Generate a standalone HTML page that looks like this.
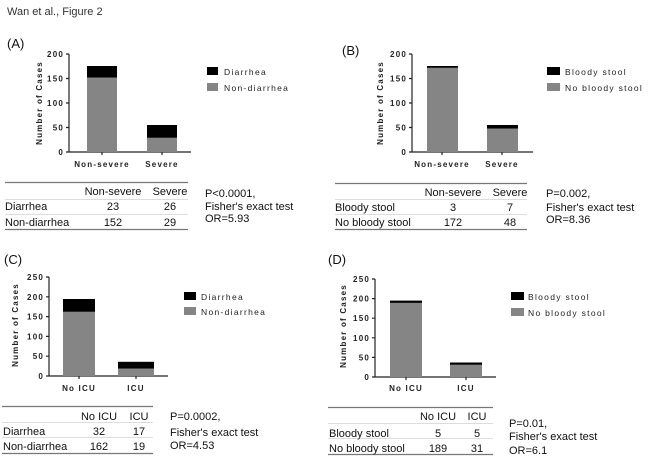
<!DOCTYPE html>
<html><head><meta charset="utf-8"><style>
html,body{margin:0;padding:0;background:#fff}
svg{display:block}
text{font-family:"Liberation Sans",Arial,sans-serif}
.t{font-size:8px;font-weight:bold;letter-spacing:1.2px;fill:#222}
.tb{font-size:11px;fill:#111}
.lg{font-size:8.5px;letter-spacing:1.3px;fill:#222}
.pl{font-size:13px;fill:#111}
</style></head><body>
<svg width="650" height="466" viewBox="0 0 650 466" xmlns="http://www.w3.org/2000/svg">
<rect width="650" height="466" fill="#fff"/>
<text x="7" y="15" style="font-size:11px;fill:#333">Wan et al., Figure 2</text>

<!-- Panel A -->
<text class="pl" x="7" y="48">(A)</text>
<g stroke="#222" stroke-width="1.2" fill="none">
<path d="M69 54V152H191M66 54H69M66 78.5H69M66 103H69M66 127.5H69M66 152H69M102 152V155M162 152V155"/>
</g>
<g class="t" text-anchor="end"><text x="64" y="57">200</text><text x="64" y="81.5">150</text><text x="64" y="106">100</text><text x="64" y="130.5">50</text><text x="64" y="155">0</text></g>
<text class="t" transform="translate(42,103) rotate(-90)" text-anchor="middle">Number of Cases</text>
<rect x="87" y="77.5" width="30" height="74.5" fill="#858585"/><rect x="87" y="66" width="30" height="11.5" fill="#000"/>
<rect x="147" y="137.8" width="30" height="14.2" fill="#858585"/><rect x="147" y="125" width="30" height="12.8" fill="#000"/>
<g class="t" text-anchor="middle"><text x="102" y="167">Non-severe</text><text x="162" y="167">Severe</text></g>
<rect x="207" y="67" width="11" height="8" fill="#000"/><rect x="207" y="83" width="11" height="8" fill="#858585"/>
<text class="lg" x="224" y="75">Diarrhea</text><text class="lg" x="224" y="91">Non-diarrhea</text>
<g stroke="#777"><path d="M5 182.5H188" stroke-width="1.3"/><path d="M5 199.5H188M5 214.5H188" stroke="#bbb" stroke-width="0.6"/><path d="M5 229.5H188" stroke-width="1.3"/></g>
<g class="tb"><text x="113" y="195" text-anchor="middle">Non-severe</text><text x="170" y="195" text-anchor="middle">Severe</text>
<text x="5" y="210">Diarrhea</text><text x="113" y="210" text-anchor="middle">23</text><text x="170" y="210" text-anchor="middle">26</text>
<text x="5" y="226">Non-diarrhea</text><text x="113" y="226" text-anchor="middle">152</text><text x="170" y="226" text-anchor="middle">29</text>
<text x="205" y="197">P&lt;0.0001,</text><text x="205" y="210">Fisher's exact test</text><text x="205" y="222">OR=5.93</text></g>

<!-- Panel B -->
<text class="pl" x="342" y="55">(B)</text>
<g stroke="#222" stroke-width="1.2" fill="none">
<path d="M412 54V152H533M409 54H412M409 78.5H412M409 103H412M409 127.5H412M409 152H412M442 152V155M502 152V155"/>
</g>
<g class="t" text-anchor="end"><text x="407" y="57">200</text><text x="407" y="81.5">150</text><text x="407" y="106">100</text><text x="407" y="130.5">50</text><text x="407" y="155">0</text></g>
<text class="t" transform="translate(383,103) rotate(-90)" text-anchor="middle">Number of Cases</text>
<rect x="427" y="67.7" width="31" height="84.3" fill="#858585"/><rect x="427" y="66" width="31" height="1.8" fill="#000"/>
<rect x="487" y="128.5" width="31" height="23.5" fill="#858585"/><rect x="487" y="125" width="31" height="3.5" fill="#000"/>
<g class="t" text-anchor="middle"><text x="442" y="167">Non-severe</text><text x="502" y="167">Severe</text></g>
<rect x="547" y="67" width="13" height="8" fill="#000"/><rect x="547" y="83" width="13" height="8" fill="#858585"/>
<text class="lg" x="565" y="75">Bloody stool</text><text class="lg" x="565" y="91">No bloody stool</text>
<g stroke="#777"><path d="M335 183.5H527" stroke-width="1.3"/><path d="M335 199.5H527M335 214.5H527" stroke="#bbb" stroke-width="0.6"/><path d="M335 229.5H527" stroke-width="1.3"/></g>
<g class="tb"><text x="453" y="196" text-anchor="middle">Non-severe</text><text x="510" y="196" text-anchor="middle">Severe</text>
<text x="335" y="211">Bloody stool</text><text x="453" y="211" text-anchor="middle">3</text><text x="510" y="211" text-anchor="middle">7</text>
<text x="335" y="226">No bloody stool</text><text x="453" y="226" text-anchor="middle">172</text><text x="510" y="226" text-anchor="middle">48</text>
<text x="546" y="197">P=0.002,</text><text x="546" y="211">Fisher's exact test</text><text x="546" y="223">OR=8.36</text></g>

<!-- Panel C -->
<text class="pl" x="4" y="264">(C)</text>
<g stroke="#222" stroke-width="1.2" fill="none">
<path d="M49 277V376H168M46 277H49M46 296.8H49M46 316.6H49M46 336.4H49M46 356.2H49M46 376H49M79 376V379M136 376V379"/>
</g>
<g class="t" text-anchor="end"><text x="44" y="280">250</text><text x="44" y="299.8">200</text><text x="44" y="319.6">150</text><text x="44" y="339.4">100</text><text x="44" y="359.2">50</text><text x="44" y="379">0</text></g>
<text class="t" transform="translate(18,325) rotate(-90)" text-anchor="middle">Number of Cases</text>
<rect x="63" y="311.8" width="32" height="64.2" fill="#858585"/><rect x="63" y="299" width="32" height="12.8" fill="#000"/>
<rect x="118" y="368.5" width="36" height="7.5" fill="#858585"/><rect x="118" y="361.8" width="36" height="6.7" fill="#000"/>
<g class="t" text-anchor="middle"><text x="79" y="391">No ICU</text><text x="136" y="391">ICU</text></g>
<rect x="184" y="292" width="12" height="8" fill="#000"/><rect x="184" y="307" width="12" height="8" fill="#858585"/>
<text class="lg" x="201" y="300">Diarrhea</text><text class="lg" x="201" y="315">Non-diarrhea</text>
<g stroke="#777"><path d="M2 406.5H153" stroke-width="1.3"/><path d="M2 422.5H153M2 437.5H153" stroke="#bbb" stroke-width="0.6"/><path d="M2 453.5H153" stroke-width="1.3"/></g>
<g class="tb"><text x="99" y="420" text-anchor="middle">No ICU</text><text x="139" y="420" text-anchor="middle">ICU</text>
<text x="3" y="435">Diarrhea</text><text x="99" y="435" text-anchor="middle">32</text><text x="139" y="435" text-anchor="middle">17</text>
<text x="3" y="450">Non-diarrhea</text><text x="99" y="450" text-anchor="middle">162</text><text x="139" y="450" text-anchor="middle">19</text>
<text x="170" y="420">P=0.0002,</text><text x="170" y="436">Fisher's exact test</text><text x="170" y="449">OR=4.53</text></g>

<!-- Panel D -->
<text class="pl" x="328" y="264">(D)</text>
<g stroke="#222" stroke-width="1.2" fill="none">
<path d="M375 279V377H496M372 279H375M372 298.6H375M372 318.2H375M372 337.8H375M372 357.4H375M372 377H375M406 377V380M466 377V380"/>
</g>
<g class="t" text-anchor="end"><text x="370" y="282">250</text><text x="370" y="301.6">200</text><text x="370" y="321.2">150</text><text x="370" y="340.8">100</text><text x="370" y="360.4">50</text><text x="370" y="380">0</text></g>
<text class="t" transform="translate(346,326) rotate(-90)" text-anchor="middle">Number of Cases</text>
<rect x="390" y="302.9" width="32" height="74.1" fill="#858585"/><rect x="390" y="300.6" width="32" height="2.3" fill="#000"/>
<rect x="450" y="364.8" width="32" height="12.2" fill="#858585"/><rect x="450" y="362.5" width="32" height="2.3" fill="#000"/>
<g class="t" text-anchor="middle"><text x="406" y="391">No ICU</text><text x="466" y="391">ICU</text></g>
<rect x="511" y="292" width="13" height="8" fill="#000"/><rect x="511" y="308" width="13" height="8" fill="#858585"/>
<text class="lg" x="528" y="300">Bloody stool</text><text class="lg" x="528" y="316">No bloody stool</text>
<g stroke="#777"><path d="M328 407.5H493" stroke-width="1.3"/><path d="M328 423.5H493M328 438.5H493" stroke="#bbb" stroke-width="0.6"/><path d="M328 454.5H493" stroke-width="1.3"/></g>
<g class="tb"><text x="438" y="420" text-anchor="middle">No ICU</text><text x="477" y="420" text-anchor="middle">ICU</text>
<text x="329" y="437">Bloody stool</text><text x="438" y="437" text-anchor="middle">5</text><text x="477" y="437" text-anchor="middle">5</text>
<text x="329" y="452">No bloody stool</text><text x="438" y="452" text-anchor="middle">189</text><text x="477" y="452" text-anchor="middle">31</text>
<text x="509" y="427">P=0.01,</text><text x="509" y="440">Fisher's exact test</text><text x="509" y="454">OR=6.1</text></g>
</svg>
</body></html>
